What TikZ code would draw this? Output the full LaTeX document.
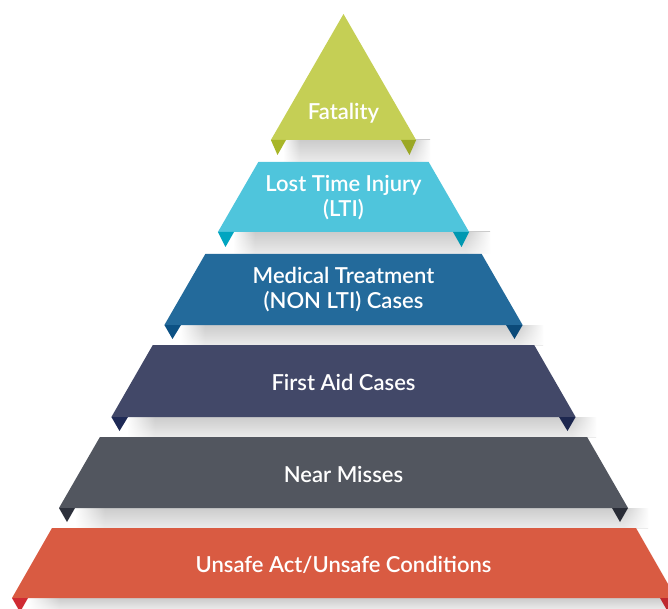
\documentclass[tikz,border=0pt]{standalone}
\usepackage{fontspec}
\setmainfont{Lato}[BoldFont={Lato Semibold}]
\usetikzlibrary{fadings}
\definecolor{cFat}{HTML}{C5CF55}\definecolor{cFatD}{HTML}{A8B628}
\definecolor{cLTI}{HTML}{4FC5DC}\definecolor{cLTID}{HTML}{00A5C0}
\definecolor{cMed}{HTML}{236A9B}\definecolor{cMedD}{HTML}{0C5184}
\definecolor{cFA}{HTML}{424868}\definecolor{cFAD}{HTML}{1F2A56}
\definecolor{cNM}{HTML}{52565F}\definecolor{cNMD}{HTML}{2C303B}
\definecolor{cUA}{HTML}{D95B42}\definecolor{cUAD}{HTML}{D02B33}
\definecolor{shTop}{HTML}{CCCCCC}\definecolor{shBot}{HTML}{EBEBEB}
\begin{document}
\begin{tikzpicture}[x=1pt,y=-1pt,
  lbl/.style={text=white,font=\bfseries\fontsize{22}{25}\selectfont,align=center,inner sep=0pt},
  shadowbox/.style={top color=shTop,bottom color=shBot,draw=none},
  fadeL/.style={white,path fading=east},
  fadeR/.style={white,path fading=west}]
\useasboundingbox (0,0) rectangle (668,609);
\clip (0,0) rectangle (668,609);
% shadows
\shade[shadowbox] (283,140) rectangle (430,162);
\shade[shadowbox] (233,232) rectangle (490,254);
\shade[shadowbox] (180,325) rectangle (543,345);
\shade[shadowbox] (127,417) rectangle (596,437);
\shade[shadowbox] (75,508) rectangle (648,528);
\shade[shadowbox] (28,598) rectangle (668,609);
\fill[fadeL] (283,140) rectangle (300,162);
\fill[fadeL] (233,232) rectangle (255,254);
\fill[fadeL] (180,325) rectangle (205,345);
\fill[fadeL] (127,417) rectangle (155,437);
\fill[fadeL] (75,508) rectangle (105,528);
\fill[fadeL] (28,598) rectangle (60,609);
\fill[fadeR] (412,140) rectangle (431,162);
\fill[fadeR] (465,232) rectangle (491,254);
\fill[fadeR] (518,325) rectangle (544,345);
\fill[fadeR] (571,417) rectangle (597,437);
\fill[fadeR] (623,508) rectangle (649,528);
% triangle
\fill[cFat] (343.5,14) -- (416.1,140) -- (270.9,140) -- cycle;
\fill[cFatD] (270.9,140) -- (286,140) -- (277.5,155) -- cycle;
\fill[cFatD!92!black] (401,140) -- (416.1,140) -- (409.5,155) -- cycle;
\node[lbl] (fat) at (343.5,113) {Fatality};
% LTI
\fill[cLTI] (258.3,162) -- (428.7,162) -- (469.1,232) -- (217.9,232) -- cycle;
\fill[cLTID] (217.9,232) -- (234,232) -- (225.5,247) -- cycle;
\fill[cLTID!92!black] (453,232) -- (469.1,232) -- (461.5,247) -- cycle;
\node[lbl] (lti) at (343.5,198) {Lost Time Injury\\(LTI)};
% Medical
\fill[cMed] (205.3,254) -- (481.7,254) -- (522.6,325) -- (164.4,325) -- cycle;
\fill[cMedD] (164.4,325) -- (181,325) -- (172.5,339) -- cycle;
\fill[cMedD!92!black] (506,325) -- (522.6,325) -- (514.5,339) -- cycle;
\node[lbl] (med) at (343.5,290) {Medical Treatment\\(NON LTI) Cases};
% First aid
\fill[cFA] (152.8,345) -- (534.2,345) -- (575.6,417) -- (111.4,417) -- cycle;
\fill[cFAD] (111.4,417) -- (128,417) -- (119.5,431) -- cycle;
\fill[cFAD!92!black] (559,417) -- (575.6,417) -- (567.5,431) -- cycle;
\node[lbl] (fa) at (343.5,382) {First Aid Cases};
% Near misses
\fill[cNM] (99.9,437) -- (587.1,437) -- (628,508) -- (59,508) -- cycle;
\fill[cNMD] (59,508) -- (75,508) -- (67,522) -- cycle;
\fill[cNMD!92!black] (612,508) -- (628,508) -- (620,522) -- cycle;
\node[lbl] (nm) at (343.5,474) {Near Misses};
% Unsafe
\fill[cUA] (52,528) -- (636,528) -- (676,598) -- (12,598) -- cycle;
\fill[cUAD] (12,598) -- (28,598) -- (20,612) -- cycle;
\fill[cUAD!92!black] (660,598) -- (676,598) -- (668,612) -- cycle;
\node[lbl] (ua) at (343.5,565) {Unsafe Act/Unsafe Conditions};
\end{tikzpicture}
\end{document}
